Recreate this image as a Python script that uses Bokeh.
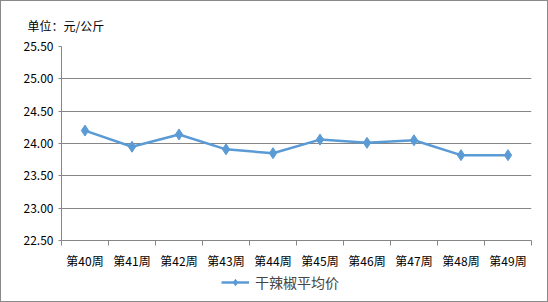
from bokeh.plotting import figure
from bokeh.layouts import column
from bokeh.models import Range1d, FixedTicker, Legend, LegendItem
from bokeh.embed import file_html
from bokeh.resources import INLINE

weeks = ["第40周", "第41周", "第42周", "第43周", "第44周", "第45周", "第46周", "第47周", "第48周", "第49周"]
prices = [24.20, 23.95, 24.14, 23.91, 23.85, 24.06, 24.01, 24.05, 23.82, 23.82]
series_name = "干辣椒平均价"
unit_text = "单位：元/公斤"
y_ticks = [22.5, 23.0, 23.5, 24.0, 24.5, 25.0, 25.5]

FONT = "Noto Sans CJK SC"
LINE = "#5B9BD5"
GRID = "#868686"

xs = [i + 0.5 for i in range(len(weeks))]

p = figure(width=546, height=270, output_backend="svg", toolbar_location=None,
           x_range=Range1d(0, len(weeks)), y_range=Range1d(22.5, 25.5),
           min_border_left=60, min_border_right=16, min_border_top=44, min_border_bottom=29)
p.outline_line_color = None
p.background_fill_color = "white"
p.border_fill_color = "white"

p.title.text = unit_text
p.title.align = "left"
p.title.offset = -34
p.title.standoff = 26
p.title.text_font = FONT
p.title.text_font_size = "12px"
p.title.text_font_style = "normal"
p.title.text_color = "black"

r = p.line(xs, prices, line_color=LINE, line_width=2.5)
m = p.scatter(xs, prices, marker="diamond", size=11, fill_color=LINE, line_color=LINE)

# y axis
p.yaxis.ticker = FixedTicker(ticks=y_ticks)
p.yaxis.major_label_overrides = {t: f"{t:.2f}" for t in y_ticks}
p.yaxis.axis_line_color = GRID
p.yaxis.major_tick_line_color = GRID
p.yaxis.major_tick_out = 3
p.yaxis.major_tick_in = 0
p.yaxis.minor_tick_line_color = None
p.yaxis.major_label_text_font = FONT
p.yaxis.major_label_text_font_size = "12px"
p.yaxis.major_label_text_color = "black"
p.yaxis.major_label_standoff = 5

# x axis
p.xaxis.ticker = FixedTicker(ticks=xs, minor_ticks=list(range(len(weeks) + 1)))
p.xaxis.major_label_overrides = {x: w for x, w in zip(xs, weeks)}
p.xaxis.axis_line_color = GRID
p.xaxis.major_tick_line_color = None
p.xaxis.major_tick_out = 0
p.xaxis.minor_tick_line_color = GRID
p.xaxis.minor_tick_out = 5
p.xaxis.minor_tick_in = 0
p.xaxis.major_label_text_font = FONT
p.xaxis.major_label_text_font_size = "12px"
p.xaxis.major_label_text_color = "black"
p.xaxis.major_label_standoff = 6

p.xgrid.grid_line_color = None
p.ygrid.grid_line_color = GRID
p.ygrid.grid_line_width = 1

# legend strip (separate small figure holding only the legend; its ranges keep the
# series itself out of view so only the legend sample is drawn)
q = figure(width=546, height=30, output_backend="svg", toolbar_location=None,
           x_axis_type=None, y_axis_type=None,
           x_range=Range1d(-2, -1), y_range=Range1d(0, 1),
           min_border_left=0, min_border_right=0, min_border_top=0, min_border_bottom=0)
q.outline_line_color = None
q.background_fill_color = "white"
q.border_fill_color = "white"
lr = q.line(xs, prices, line_color=LINE, line_width=2.5)
lm = q.scatter(xs, prices, marker="diamond", size=9, fill_color=LINE, line_color=LINE)
legend = Legend(items=[LegendItem(label=series_name, renderers=[lr, lm])],
                location=(160, 9), orientation="horizontal",
                label_text_font=FONT, label_text_font_size="14px",
                glyph_width=28, glyph_height=16, label_standoff=6,
                background_fill_alpha=0, border_line_color=None,
                padding=0, margin=0)
q.add_layout(legend, "center")

layout = column(p, q, spacing=0)
layout.styles = {"border": "1px solid #8a8a8a", "background-color": "white"}

open("out.html", "w").write(file_html(layout, INLINE))
